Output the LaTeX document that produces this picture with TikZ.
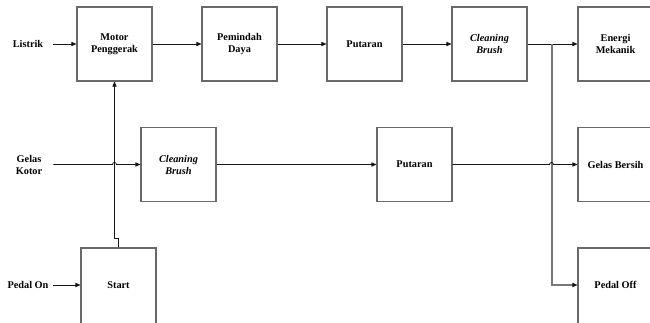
\documentclass[tikz,border=0pt]{standalone}
\usepackage{fontspec}
\setmainfont{Liberation Serif}
\usetikzlibrary{arrows.meta}
\definecolor{boxgray}{RGB}{105,105,105}
\definecolor{linegray}{RGB}{120,120,120}
\definecolor{linedark}{RGB}{20,20,20}
\begin{document}
\begin{tikzpicture}[x=1pt,y=-1pt,
  txt/.style={font=\fontsize{10.3}{12}\selectfont\bfseries, align=center},
  blk/.style={txt, draw=boxgray, line width=1.1pt, minimum width=75pt, minimum height=74pt, inner sep=0pt},
  lbl/.style={txt, inner sep=0pt},
  arr/.style={draw=linedark, line width=0.8pt, -{Triangle[length=5pt,width=4.2pt]}},
  garr/.style={draw=linegray, line width=1.1pt, -{Triangle[length=5pt,width=4.2pt,color=linedark]}},
  ]
\useasboundingbox (0,0) rectangle (650,322);
% row 1
\node[blk] (m1) at (114.5,44) {Motor\\Penggerak};
\node[blk] (m2) at (239.5,44) {Pemindah\\Daya};
\node[blk] (m3) at (364.5,44) {Putaran};
\node[blk] (m4) at (489.5,44) {\textit{Cleaning}\\\textit{Brush}};
\node[blk] (m5) at (615.5,44) {Energi\\Mekanik};
% row 2
\node[blk] (c1) at (178.5,164.5) {\textit{Cleaning}\\\textit{Brush}};
\node[blk] (c2) at (414.5,164.5) {Putaran};
\node[blk] (c3) at (615.5,164.5) {Gelas Bersih};
% row 3 (bottom edges fall below the page)
\node[blk, minimum height=80pt] (s1) at (118.5,288) {};
\node[txt] (s1t) at (118.5,285) {Start};
\node[blk, minimum height=80pt] (s2) at (615.5,288) {};
\node[txt] (s2t) at (615.5,285) {Pedal Off};
% input labels
\node[lbl] (lis) at (28,44) {Listrik};
\node[lbl] (gk) at (29,165) {Gelas\\Kotor};
\node[lbl] (po) at (28,285) {Pedal On};
% row 1 connectors
\draw[arr] ([xshift=10pt]lis.east) -- (m1.west);
\draw[arr] (m1.east) -- (m2.west);
\draw[arr] (m2.east) -- (m3.west);
\draw[arr] (m3.east) -- (m4.west);
\draw[arr] (m4.east) -- (m5.west);
\coordinate (j) at (552,44);
\draw[garr] (j) |- (s2.west |- s2t);
% start to motor
\draw[arr, line width=0.9pt] (s1.north) -- ([yshift=9pt]s1.north) -| (m1.south);
% row 2 connectors with hops
\coordinate (h1) at (112.5,164.5);
\coordinate (h2) at (549.5,164.5);
\draw[arr] ([xshift=11pt]gk.east |- c1.west) -- (h1) arc[start angle=180, end angle=0, radius=2pt] -- (c1.west);
\draw[arr] (c1.east) -- (c2.west);
\draw[arr] (c2.east) -- (h2) arc[start angle=180, end angle=0, radius=2pt] -- (c3.west);
% row 3
\draw[arr] ([xshift=4pt]po.east) -- (s1.west |- s1t);
\end{tikzpicture}
\end{document}
